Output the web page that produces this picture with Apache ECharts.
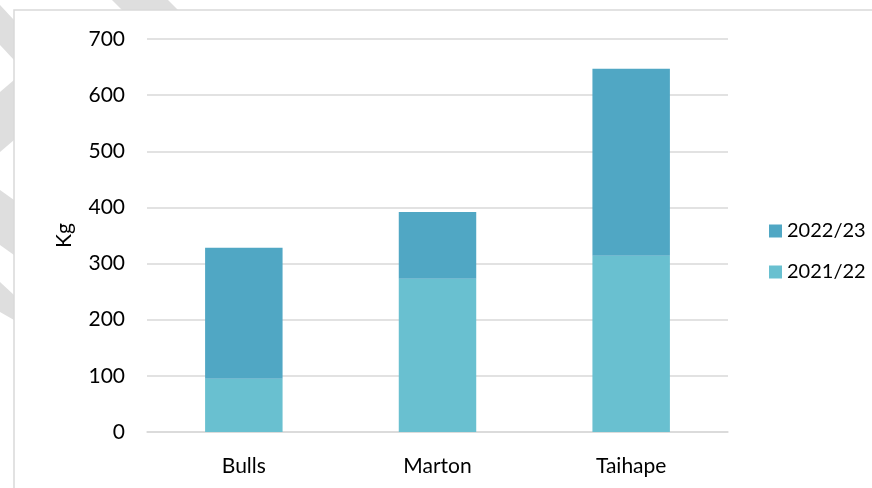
<!DOCTYPE html>
<html><head><meta charset="utf-8">
<script src="https://cdn.jsdelivr.net/npm/echarts@6/dist/echarts.min.js"></script>
<style>html,body{margin:0;padding:0;background:#fff}#c{width:872px;height:488px}</style>
</head><body><div id="c"></div>
<script>
const categories = ['Bulls', 'Marton', 'Taihape'];
const s2021 = [95, 273, 314];
const s2022 = [233, 119, 333];
const seriesNames = ['2021/22', '2022/23'];
const yTicks = [0, 100, 200, 300, 400, 500, 600, 700];

const font = 'Lato';
const chart = echarts.init(document.getElementById('c'), null, {renderer: 'canvas'});
const wm = '#dedede';
chart.setOption({
  backgroundColor: '#fff',
  animation: false,
  graphic: [
    {type: 'polygon', z: -10, shape: {points: [[112,0],[168,0],[178,10],[122,10]]}, style: {fill: wm}},
    {type: 'polygon', z: -10, shape: {points: [[0,5],[14,20],[14,60],[0,45]]}, style: {fill: wm}},
    {type: 'polygon', z: -10, shape: {points: [[0,92],[14,80],[14,140],[0,152]]}, style: {fill: wm}},
    {type: 'polygon', z: -10, shape: {points: [[0,190],[14,200],[14,255],[0,245]]}, style: {fill: wm}},
    {type: 'polygon', z: -10, shape: {points: [[0,282],[14,295],[14,320],[0,312]]}, style: {fill: wm}},
    {type: 'rect', z: -5, shape: {x: 14, y: 10, width: 870, height: 490}, style: {fill: '#fff', stroke: '#d9d9d9', lineWidth: 1.5}}
  ],
  legend: {
    orient: 'vertical',
    left: 764,
    top: 216,
    itemWidth: 13,
    itemHeight: 13,
    itemGap: 21,
    icon: 'rect',
    data: ['2022/23', '2021/22'],
    textStyle: {fontFamily: font, fontSize: 20, color: '#000'}
  },
  grid: {left: 147, right: 144, top: 39, bottom: 56, containLabel: false},
  xAxis: {
    type: 'category',
    data: categories,
    axisLine: {show: true, lineStyle: {color: '#d9d9d9', width: 1.5}},
    axisTick: {show: false},
    axisLabel: {fontFamily: font, fontSize: 21, color: '#000', margin: 24}
  },
  yAxis: {
    type: 'value',
    min: yTicks[0],
    max: yTicks[yTicks.length - 1],
    interval: 100,
    name: 'Kg',
    nameLocation: 'middle',
    nameRotate: 90,
    nameGap: 72,
    nameTextStyle: {fontFamily: font, fontSize: 21, color: '#000'},
    axisLine: {show: false},
    axisTick: {show: false},
    axisLabel: {fontFamily: font, fontSize: 21, color: '#000', margin: 22},
    splitLine: {lineStyle: {color: '#d9d9d9', width: 1.5}}
  },
  series: [
    {name: seriesNames[0], type: 'bar', stack: 't', data: s2021, barWidth: '40%',
     itemStyle: {color: '#69c0d0'}},
    {name: seriesNames[1], type: 'bar', stack: 't', data: s2022, barWidth: '40%',
     itemStyle: {color: '#50a7c4'}}
  ]
});
</script></body></html>
